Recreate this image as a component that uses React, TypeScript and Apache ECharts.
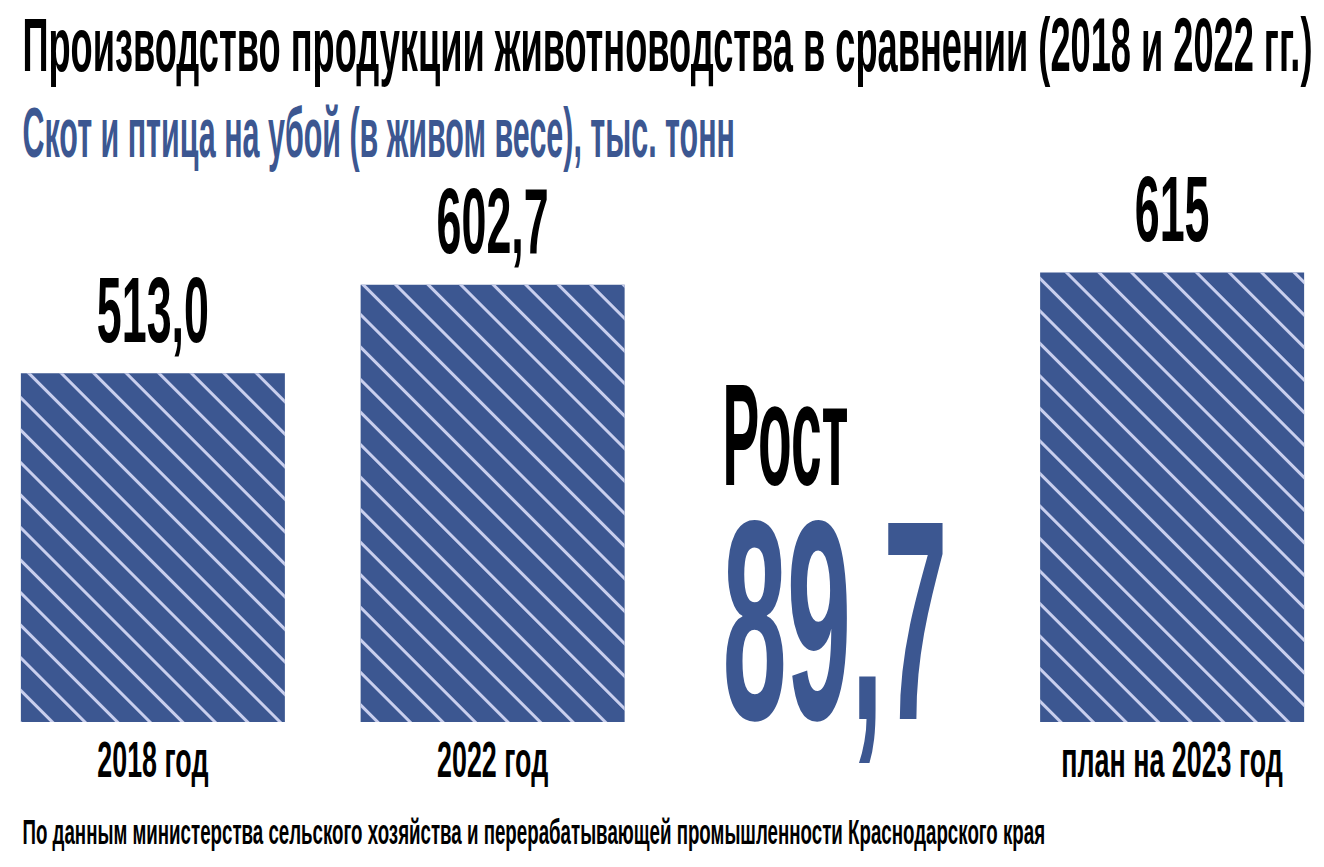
import React, { useEffect, useRef } from "react";
import * as echarts from "echarts";

const CATEGORIES = ["2018 год", "2022 год", "", "план на 2023 год"];
const VALUES: (number | null)[] = [513.0, 602.7, null, 615];
const VALUE_LABELS = ["513,0", "602,7", "", "615"];
const TITLE = "Производство продукции животноводства в сравнении (2018 и 2022 гг.)";
const SUBTITLE = "Скот и птица на убой (в живом весе), тыс. тонн";
const SOURCE =
  "По данным министерства сельского хозяйства и перерабатывающей промышленности Краснодарского края";
const GROWTH_LABEL = "Рост";
const GROWTH_VALUE = ((VALUES[1] as number) - (VALUES[0] as number)).toFixed(1).replace(".", ",");

const FONT_FAMILY = "'Liberation Sans Narrow', 'Liberation Sans', Arial, sans-serif";
const BLUE = "#3c5791";
const STRIPE = "#c9cfee";
const CAP = 0.716;
const OFFSET = 17.5; // chart canvas starts left of the viewport edge
const Y_MIN = 160;

function measure(text: string, size: number): number {
  const ctx = document.createElement("canvas").getContext("2d")!;
  ctx.font = `bold ${size}px ${FONT_FAMILY}`;
  return ctx.measureText(text).width;
}

function fitText(
  text: string,
  x: number,
  capTop: number,
  baseline: number,
  width: number,
  fill: string
) {
  const size = (baseline - capTop) / CAP;
  const sx = width / measure(text, size);
  return {
    type: "text",
    x: x + OFFSET,
    y: (capTop + baseline) / 2,
    scaleX: sx,
    silent: true,
    style: {
      text,
      fill,
      font: `bold ${size}px ${FONT_FAMILY}`,
      align: "left",
      verticalAlign: "middle",
    },
  };
}

export default function App() {
  const ref = useRef<HTMLDivElement>(null);
  useEffect(() => {
    if (!ref.current) return;
    const chart = echarts.init(ref.current, undefined, { renderer: "svg" });

    const valueSize = 66 / CAP;
    const catSize = 36 / CAP;
    const valueScale = 112 / measure("513,0", valueSize);
    const catScale = 111 / measure("2018 год", catSize);

    const labelData = VALUES.flatMap((v, i) => (v == null ? [] : [[i, v]]));

    chart.setOption({
      animation: false,
      backgroundColor: "#ffffff",
      grid: { left: 0, right: 0, top: 188.5, bottom: 145 },
      xAxis: {
        type: "category",
        data: CATEGORIES,
        show: false,
      },
      yAxis: { type: "value", min: Y_MIN, max: 700, show: false },
      series: [
        {
          type: "bar",
          data: VALUES.map((v) => (v == null ? "-" : v)),
          barWidth: 264,
          silent: true,
          itemStyle: {
            color: BLUE,
            decal: {
              symbol: "rect",
              symbolSize: 1,
              dashArrayX: [1, 0],
              dashArrayY: [2.4, 19.6],
              rotation: Math.PI / 4,
              color: STRIPE,
            },
          },
        },
        {
          type: "custom",
          data: labelData,
          silent: true,
          clip: false,
          renderItem: (params: any, api: any) => {
            const i = api.value(0);
            const v = api.value(1);
            const top = api.coord([i, v]);
            const base = api.coord([i, Y_MIN]);
            return {
              type: "group",
              children: [
                {
                  type: "text",
                  x: top[0],
                  y: top[1] - 31 - 33,
                  scaleX: valueScale,
                  style: {
                    text: VALUE_LABELS[i],
                    fill: "#000000",
                    font: `bold ${valueSize}px ${FONT_FAMILY}`,
                    align: "center",
                    verticalAlign: "middle",
                  },
                },
                {
                  type: "text",
                  x: base[0],
                  y: base[1] + 38,
                  scaleX: catScale,
                  style: {
                    text: CATEGORIES[i],
                    fill: "#000000",
                    font: `bold ${catSize}px ${FONT_FAMILY}`,
                    align: "center",
                    verticalAlign: "middle",
                  },
                },
              ],
            };
          },
        },
      ],
      graphic: [
        fitText(TITLE, 22, 18, 72, 1290, "#000000"),
        fitText(SUBTITLE, 22, 107, 157, 713, BLUE),
        fitText(GROWTH_LABEL, 722, 383, 487, 126, "#000000"),
        fitText(GROWTH_VALUE, 722, 518, 722, 225, BLUE),
        fitText(SOURCE, 22, 820, 845, 1023, "#000000"),
      ],
    });
    return () => chart.dispose();
  }, []);
  return (
    <div
      ref={ref}
      style={{
        position: "fixed",
        left: -OFFSET,
        top: 0,
        width: 1324 + 2 * OFFSET,
        height: 867,
        background: "#fff",
      }}
    />
  );
}
